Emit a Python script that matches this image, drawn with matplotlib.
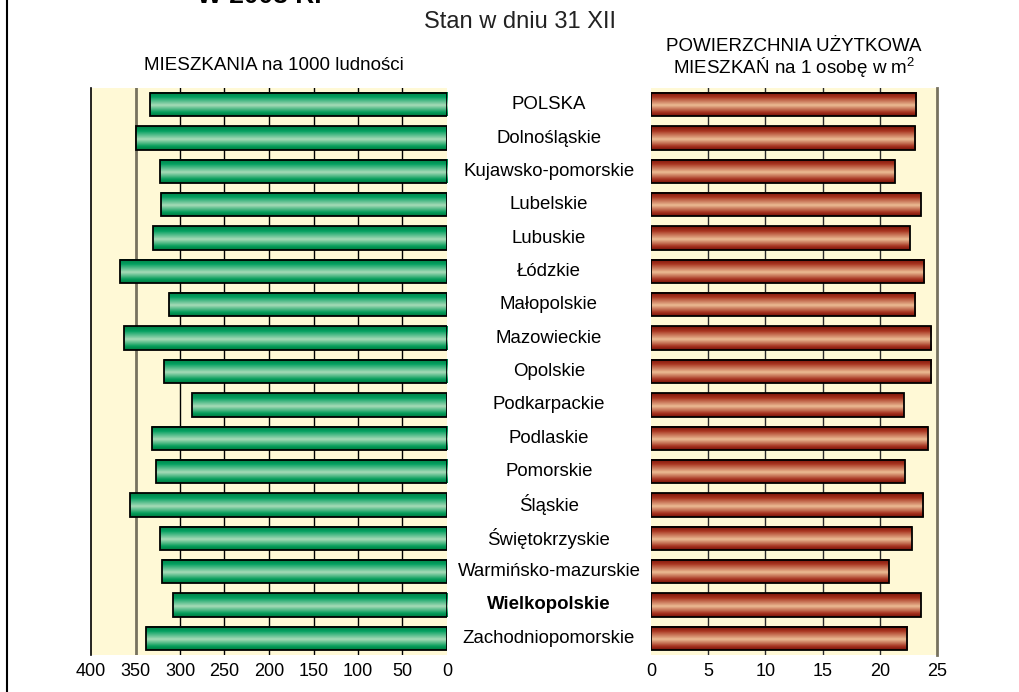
import matplotlib.pyplot as plt
import numpy as np
from matplotlib.colors import LinearSegmentedColormap
from matplotlib.transforms import blended_transform_factory
from matplotlib.lines import Line2D

regions = ['POLSKA', 'Dolnośląskie', 'Kujawsko-pomorskie', 'Lubelskie', 'Lubuskie',
           'Łódzkie', 'Małopolskie', 'Mazowieckie', 'Opolskie', 'Podkarpackie',
           'Podlaskie', 'Pomorskie', 'Śląskie', 'Świętokrzyskie',
           'Warmińsko-mazurskie', 'Wielkopolskie', 'Zachodniopomorskie']
# mieszkania na 1000 ludnosci
flats = [334, 349, 323, 321, 330, 367, 312, 363, 318, 286,
         332, 327, 356, 322, 320, 308, 338]
# powierzchnia uzytkowa na 1 osobe w m2
area = [23.2, 23.1, 21.3, 23.6, 22.6, 23.9, 23.1, 24.5, 24.5, 22.1,
        24.2, 22.2, 23.8, 22.8, 20.8, 23.6, 22.4]
left_ticks = [400, 350, 300, 250, 200, 150, 100, 50, 0]
right_ticks = [0, 5, 10, 15, 20, 25]

plt.rcParams['font.family'] = ['Liberation Sans', 'DejaVu Sans']
plt.rcParams['mathtext.fontset'] = 'custom'
plt.rcParams['mathtext.rm'] = 'Liberation Sans'
plt.rcParams['mathtext.default'] = 'regular'

W, H = 1020, 692
fig = plt.figure(figsize=(W / 100, H / 100), dpi=100)
bg = '#fff9d6'

def px(x0, y0, x1, y1):
    return [x0 / W, 1 - y1 / H, (x1 - x0) / W, (y1 - y0) / H]

axl = fig.add_axes(px(91, 88, 447, 655), facecolor=bg)
axr = fig.add_axes(px(651, 88, 937, 655), facecolor=bg)

green = LinearSegmentedColormap.from_list('g', [(0, '#007f45'), (0.2, '#03a060'),
                                                (0.55, '#a8dbb8'), (0.85, '#049c5a'),
                                                (1, '#00783f')])
red = LinearSegmentedColormap.from_list('r', [(0, '#7a1207'), (0.2, '#a83520'),
                                              (0.55, '#ecbc94'), (0.85, '#a53220'),
                                              (1, '#761107')])
grad = np.linspace(0, 1, 64).reshape(-1, 1)
y = np.arange(len(regions))
h = 0.70

for ax, vals, cmap in [(axl, flats, green), (axr, area, red)]:
    for i, v in zip(y, vals):
        ax.imshow(grad, cmap=cmap, extent=(0, v, i + h / 2, i - h / 2),
                  aspect='auto', interpolation='bilinear', zorder=2)
    ax.barh(y, vals, height=h, fill=False, edgecolor='black', linewidth=1.3, zorder=3)
    ax.set_ylim(len(regions) - 0.5, -0.5)
    ax.set_yticks([])
    ax.tick_params(axis='x', length=0, labelsize=13, pad=6)
    for s in ax.spines.values():
        s.set_visible(False)

axl.set_xlim(400, 0)
axl.set_xticks(left_ticks)
for t in left_ticks[2:-1]:
    axl.axvline(t, color='black', lw=1.0, zorder=1)
axl.axvline(350, color='#77725f', lw=2, zorder=1)
axl.spines['left'].set_visible(True)
axl.spines['left'].set_linewidth(1.2)

axr.set_xlim(0, 25)
axr.set_xticks(right_ticks)
for t in right_ticks[1:-1]:
    axr.axvline(t, color='#2a2a2a', lw=1.0, zorder=1)
axr.spines['right'].set_visible(True)
axr.spines['right'].set_color('#77725f')
axr.spines['right'].set_linewidth(2)

tr = blended_transform_factory(fig.transFigure, axl.transData)
for i, name in zip(y, regions):
    fig.text(549 / W, i, name, transform=tr, ha='center', va='center', fontsize=13.4,
             fontweight='bold' if name == 'Wielkopolskie' else 'normal')

fig.text(197 / W, 1 - 3 / H, 'W 2008 R.', fontsize=19, fontweight='bold', va='baseline')
fig.text(520 / W, 1 - 22 / H, 'Stan w dniu 31 XII', fontsize=17, ha='center', va='center',
         color='#222222')
fig.text(274 / W, 1 - 66 / H, 'MIESZKANIA na 1000 ludności', fontsize=13.5,
         ha='center', va='center')
fig.text(794 / W, 1 - 59 / H, 'POWIERZCHNIA UŻYTKOWA\nMIESZKAŃ na 1 osobę w m$^2$',
         fontsize=13.5, ha='center', va='center', linespacing=1.0)

fig.add_artist(Line2D([7.5 / W, 7.5 / W], [0, 1], color='black', lw=1.5))

fig.savefig('out.png', dpi=100)
